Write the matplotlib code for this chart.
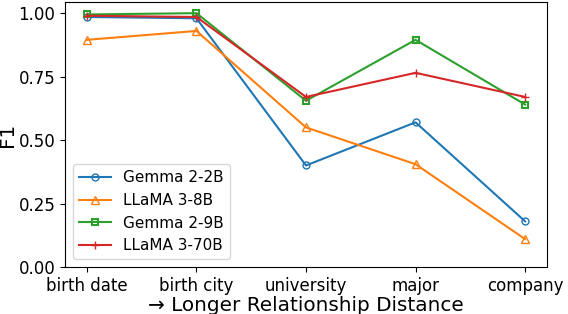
import matplotlib
matplotlib.use("Agg")
import matplotlib.pyplot as plt

categories = ["birth date", "birth city", "university", "major", "company"]
gemma_2b = [0.985, 0.98, 0.40, 0.57, 0.18]
llama_8b = [0.895, 0.93, 0.55, 0.405, 0.11]
gemma_9b = [0.995, 1.0, 0.655, 0.895, 0.64]
llama_70b = [0.99, 0.985, 0.67, 0.765, 0.67]

plt.rcParams['font.size'] = 12
fig, ax = plt.subplots(figsize=(5.68, 3.14), dpi=100)
x = list(range(len(categories)))
ax.plot(x, gemma_2b, marker='o', mfc='none', ms=5, label='Gemma 2-2B', color='#1f77b4')
ax.plot(x, llama_8b, marker='^', mfc='none', ms=6, label='LLaMA 3-8B', color='#ff7f0e')
ax.plot(x, gemma_9b, marker='s', mfc='none', ms=5, mew=1.5, label='Gemma 2-9B', color='#2ca02c')
ax.plot(x, llama_70b, marker='+', ms=6, label='LLaMA 3-70B', color='#d62728')
ax.set_xticks(x)
ax.set_xticklabels(categories)
ax.set_ylim(0, 1.0445)
ax.set_yticks([0, 0.25, 0.5, 0.75, 1.0])
ax.set_ylabel('F1', fontsize=14.4, labelpad=1)
ax.set_xlabel('→ Longer Relationship Distance', fontsize=14.4, labelpad=1)
ax.legend(loc='lower left', fontsize=11, handlelength=2.1)
fig.subplots_adjust(left=0.1144, right=0.963, top=0.994, bottom=0.1497)
fig.savefig('out.png')
